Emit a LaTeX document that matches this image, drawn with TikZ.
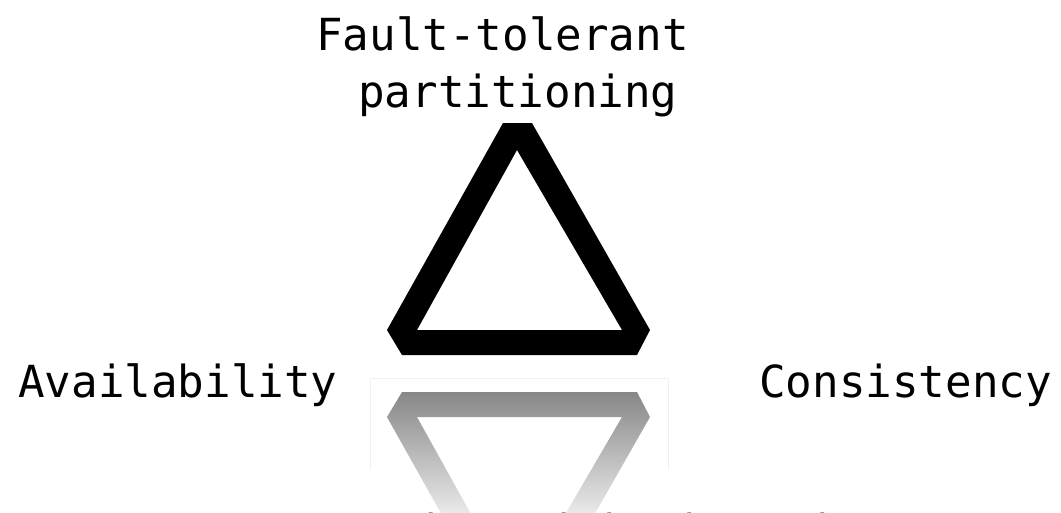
\documentclass[tikz,border=0pt]{standalone}
\usepackage{fontspec}
\setmonofont{DejaVu Sans Mono}
\definecolor{reflgray}{RGB}{135,135,135}
\definecolor{bottomtext}{RGB}{89,89,89}
\tikzset{
  labeltext/.style={font=\ttfamily\fontsize{44.2}{53}\selectfont, inner sep=0pt, anchor=base west, text=black},
  bottomline/.style={labeltext, text=bottomtext},
}
\begin{document}
\begin{tikzpicture}[x=1pt,y=-1pt]
\useasboundingbox (0,0) rectangle (1061,512);
\begin{scope}
\clip (0,0) rectangle (1061,512);
\fill[white] (0,0) rectangle (1061,512);
% main triangle (thick outline with truncated corners)
\fill[black, even odd rule]
  (503,123) -- (532,123) -- (650,330) -- (637,355) -- (402,355) -- (387,330) -- cycle
  (517,150) -- (622,330) -- (417,330) -- cycle;
% faint frame of the reflection
\draw[black!6, line width=1pt] (370,470) -- (370,378) -- (668,378) -- (668,470);
% reflection
\begin{scope}[even odd rule]
\clip
  (503,624) -- (532,624) -- (650,417) -- (637,392) -- (402,392) -- (387,417) -- cycle
  (517,597) -- (622,417) -- (417,417) -- cycle;
\shade[top color=reflgray, bottom color=white] (370,392) rectangle (670,540);
\end{scope}
% labels
\node[labeltext] (ft) at (316,50) {Fault-tolerant};
\node[labeltext] (pt) at (358,107) {partitioning};
\node[labeltext] (av) at (18,397) {Availability};
\node[labeltext] (co) at (759,397) {Consistency};
\node[bottomline] (note) at (71,546) {1 cannot coexist with the other two};
\end{scope}
\end{tikzpicture}
\end{document}
